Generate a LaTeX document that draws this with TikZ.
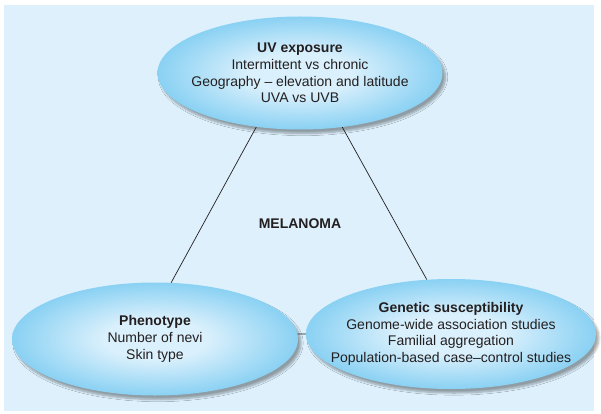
\documentclass[tikz,border=0pt]{standalone}
\usepackage{fontspec}
\setmainfont{Liberation Sans}
\usepackage{tikz}
\usetikzlibrary{shapes.geometric}
\usetikzlibrary{shadows.blur}

\definecolor{bgblue}{HTML}{DDF0FC}
\definecolor{bubin}{HTML}{DAF0FC}
\definecolor{bubout}{HTML}{8AD1F3}
\definecolor{inkgray}{HTML}{231F20}

\pgfdeclareradialshading{bubble}{\pgfpoint{0bp}{0bp}}{color(0bp)=(bubin); color(9bp)=(bubin); color(25bp)=(bubout); color(50bp)=(bubout)}

\begin{document}
\begin{tikzpicture} [x=1pt,y=-1pt,
  bubble/.style={ellipse, shading=bubble, inner xsep=-45pt, inner ysep=-25pt, align=center, text=inkgray,
    font=\fontsize{14}{16.7}\selectfont,
    blur shadow={shadow xshift=3pt, shadow yshift=-4pt, shadow opacity=35, shadow blur steps=8}},
  link/.style={inkgray, line width=0.7pt}]

\useasboundingbox (0,0) rectangle (601,414);
\fill[bgblue] (4,5) rectangle (594,411);

\node[bubble, minimum width=285pt, minimum height=113pt] (uv) at (300,73)
  {\textbf{UV exposure}\\Intermittent vs chronic\\Geography -- elevation and latitude\\UVA vs UVB};
\node[bubble, minimum width=286pt, minimum height=113pt] (pheno) at (155,339)
  {\textbf{Phenotype}\\Number of nevi\\Skin type};
\node[bubble, minimum width=290pt, minimum height=110pt] (gen) at (451,334)
  {\textbf{Genetic susceptibility}\\Genome-wide association studies\\Familial aggregation\\Population-based case--control studies};

\node[text=inkgray, font=\fontsize{14}{16.7}\selectfont\bfseries] (mel) at (300,224) {MELANOMA};

\draw[link] (uv.231)--(pheno.74);
\draw[link] (uv.308)--(gen.114);
\draw[link] (pheno.2)--(gen.180);

\end{tikzpicture}
\end{document}
